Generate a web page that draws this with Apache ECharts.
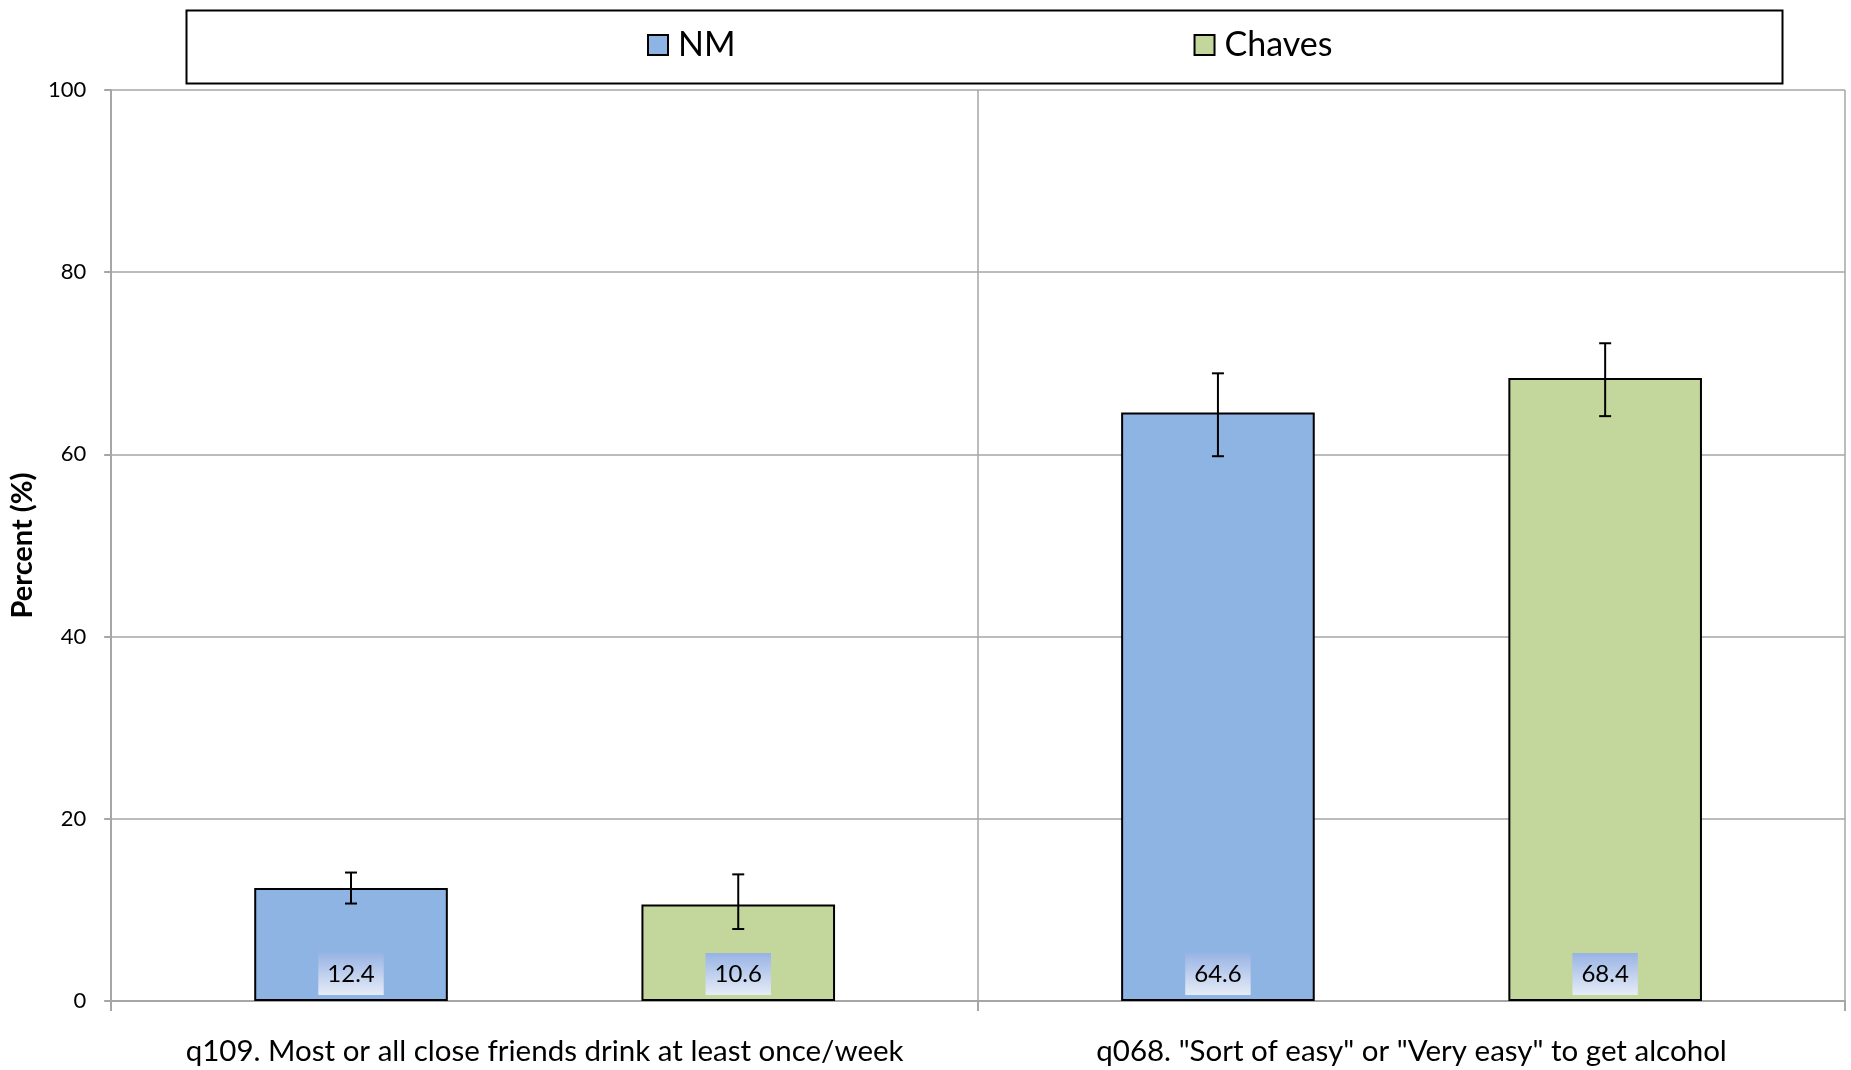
<!DOCTYPE html>
<html>
<head>
<meta charset="utf-8">
<script src="https://cdn.jsdelivr.net/npm/echarts@6/dist/echarts.min.js"></script>
<style>
html,body{margin:0;padding:0;background:#fff;}
#chart{width:1851px;height:1070px;}
</style>
</head>
<body>
<div id="chart"></div>
<script>
const categories = ['q109. Most or all close friends drink at least once/week', 'q068. "Sort of easy" or "Very easy" to get alcohol'];
const seriesNames = ['NM', 'Chaves'];
const nmValues = [12.4, 64.6];
const chavesValues = [10.6, 68.4];
const nmLow = [10.7, 59.8];
const nmHigh = [14.1, 68.9];
const chavesLow = [7.9, 64.2];
const chavesHigh = [13.9, 72.2];
const yTicks = [0, 20, 40, 60, 80, 100];

const FONT = 'Lato, "Open Sans", sans-serif';
const nmColor = '#8eb4e3';
const chavesColor = '#c3d69b';
const gridColor = '#a6a6a6';

const labelBg = new echarts.graphic.LinearGradient(0, 0, 0, 1, [
  {offset: 0, color: '#98b3e4'},
  {offset: 1, color: '#e6ecf7'}
]);

function valueLabel() {
  return {
    show: true,
    position: 'insideBottom',
    distance: 6,
    formatter: p => p.value.toFixed(1),
    color: '#000',
    fontFamily: FONT,
    fontSize: 24,
    lineHeight: 24,
    padding: [9, 9, 9, 9],
    backgroundColor: labelBg
  };
}

function errorSeries(name, low, high, sign) {
  return {
    type: 'custom',
    name: name + ' error',
    z: 10,
    silent: true,
    data: low.map((l, i) => [i, l, high[i]]),
    renderItem: function (params, api) {
      const i = api.value(0);
      const lo = api.coord([i, api.value(1)]);
      const hi = api.coord([i, api.value(2)]);
      const bw = api.size([1, 0])[0];
      const cx = lo[0] + sign * bw * 0.67 / 3;
      const cap = 6;
      const st = {stroke: '#000', lineWidth: 2};
      return {
        type: 'group',
        children: [
          {type: 'line', shape: {x1: cx, y1: lo[1], x2: cx, y2: hi[1]}, style: st},
          {type: 'line', shape: {x1: cx - cap, y1: lo[1], x2: cx + cap, y2: lo[1]}, style: st},
          {type: 'line', shape: {x1: cx - cap, y1: hi[1], x2: cx + cap, y2: hi[1]}, style: st}
        ]
      };
    }
  };
}

const chart = echarts.init(document.getElementById('chart'), null, {renderer: 'canvas'});
chart.setOption({
  animation: false,
  backgroundColor: '#fff',
  textStyle: {fontFamily: FONT},
  graphic: [{
    type: 'rect',
    left: 184, top: 8,
    shape: {width: 1596, height: 73},
    style: {fill: 'none', stroke: '#000', lineWidth: 2},
    z: 0
  }],
  legend: {
    data: seriesNames,
    icon: 'rect',
    left: 647,
    top: 27,
    padding: 0,
    itemWidth: 20,
    itemHeight: 20,
    itemGap: 458,
    textStyle: {fontFamily: FONT, fontSize: 34, color: '#000', lineHeight: 36, padding: [0, 0, 0, 5]}
  },
  grid: {left: 106, right: 6, top: 90, bottom: 69, containLabel: false},
  xAxis: {
    type: 'category',
    data: categories,
    axisLine: {show: true, lineStyle: {color: gridColor, width: 2}},
    axisTick: {show: true, interval: 0, length: 10, lineStyle: {color: gridColor, width: 2}},
    splitLine: {show: true, interval: 0, lineStyle: {color: gridColor, width: 1.5}},
    axisLabel: {interval: 0, hideOverlap: false, color: '#000', fontFamily: FONT, fontSize: 29.5, margin: 35}
  },
  yAxis: {
    type: 'value',
    min: 0, max: 100, interval: 20,
    name: 'Percent (%)',
    nameLocation: 'middle',
    nameGap: 58,
    nameTextStyle: {color: '#000', fontFamily: FONT, fontSize: 29, fontWeight: 'bold'},
    axisLine: {show: true, lineStyle: {color: gridColor, width: 2}},
    axisTick: {show: true, length: 7, lineStyle: {color: gridColor, width: 2}},
    splitLine: {show: true, lineStyle: {color: gridColor, width: 1.5}},
    axisLabel: {color: '#000', fontFamily: FONT, fontSize: 22, margin: 25,
      formatter: v => yTicks.includes(v) ? String(v) : ''}
  },
  series: [
    {
      name: seriesNames[0], type: 'bar', data: nmValues,
      barGap: '100%', barCategoryGap: '33%',
      itemStyle: {color: nmColor, borderColor: '#000', borderWidth: 2},
      label: valueLabel()
    },
    {
      name: seriesNames[1], type: 'bar', data: chavesValues,
      barGap: '100%', barCategoryGap: '33%',
      itemStyle: {color: chavesColor, borderColor: '#000', borderWidth: 2},
      label: valueLabel()
    },
    errorSeries('NM', nmLow, nmHigh, -1),
    errorSeries('Chaves', chavesLow, chavesHigh, 1)
  ]
});
</script>
</body>
</html>
